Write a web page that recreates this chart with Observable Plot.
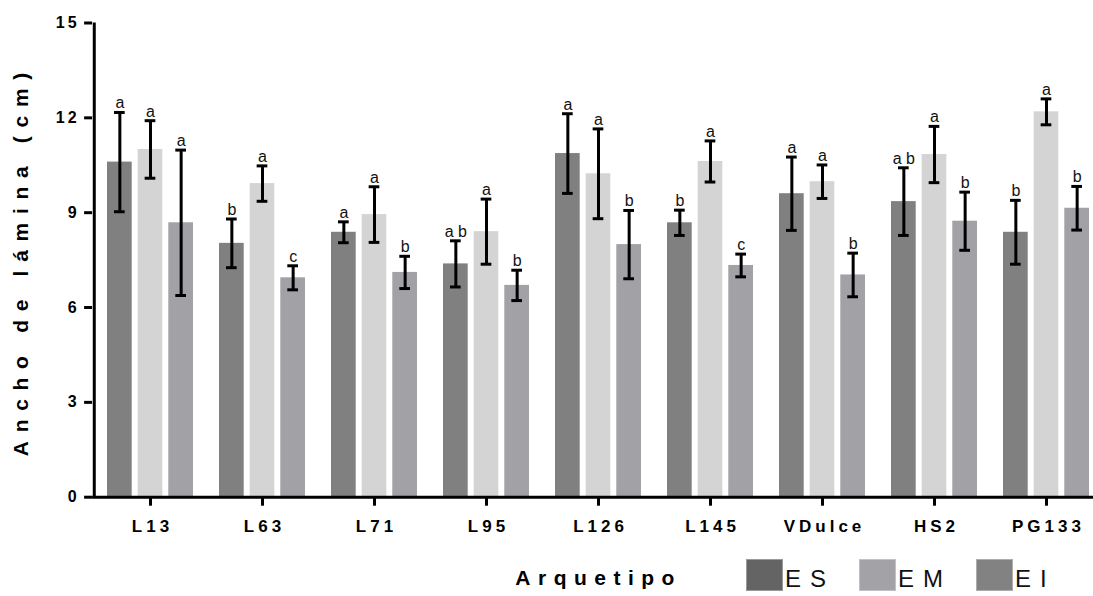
<!DOCTYPE html>
<html>
<head>
<meta charset="utf-8">
<script src="https://cdn.jsdelivr.net/npm/d3@7"></script>
<script src="https://cdn.jsdelivr.net/npm/@observablehq/plot@0.6"></script>
<style>
  html, body { margin: 0; padding: 0; background: #fff; overflow: hidden; width: 1093px; height: 596px; }
  #wrap { position: relative; width: 1093px; height: 596px; overflow: hidden; font-family: "Liberation Sans", Arial, sans-serif; }
  #wrap svg { display: block; }
  #legend { position: absolute; left: 746px; top: 559px; display: flex; align-items: center; gap: 24px; }
  .item { display: flex; align-items: center; }
  .sw { width: 37px; height: 32px; box-sizing: border-box; border: 1px solid rgba(255,255,255,0.35); }
  .lab { font-size: 24px; letter-spacing: 9px; color: #111; margin-left: 2px; position: relative; top: 4px; }
</style>
</head>
<body>
<div id="wrap"><div id="legend"></div></div>
<script>
// ---- data ----
const categories = ["L13", "L63", "L71", "L95", "L126", "L145", "VDulce", "HS2", "PG133"];
const series = ["ES", "EM", "EI"];

const meanES = [10.60, 8.03, 8.38, 7.38, 10.87, 8.68, 9.60, 9.35, 8.38];
const meanEM = [11.00, 9.92, 8.94, 8.40, 10.23, 10.62, 9.98, 10.84, 12.19];
const meanEI = [8.68, 6.94, 7.11, 6.70, 7.99, 7.33, 7.03, 8.73, 9.14];

const errES = [1.57, 0.77, 0.33, 0.73, 1.26, 0.40, 1.16, 1.07, 1.01];
const errEM = [0.91, 0.56, 0.88, 1.03, 1.42, 0.65, 0.53, 0.89, 0.41];
const errEI = [2.30, 0.38, 0.51, 0.48, 1.08, 0.36, 0.69, 0.92, 0.69];

const letterES = ["a", "b", "a", "a b", "a", "b", "a", "a b", "b"];
const letterEM = ["a", "a", "a", "a", "a", "a", "a", "a", "a"];
const letterEI = ["a", "c", "b", "b", "b", "c", "b", "b", "b"];

const yTicks = [0, 3, 6, 9, 12, 15];
const barColors = ["#808080", "#d4d4d4", "#a1a1a6"];
const legendColors = ["#646464", "#a2a2a7", "#828282"];
const yLabel = "Ancho de lámina (cm)";
const xLabel = "Arquetipo";

// ---- layout ----
const W = 1093, H = 596;
const mL = 92.1, mT = 22.5, mB = 99.3;
const step = 112.45;
const mR = W - mL - step * categories.length;   // negative: the chart is cropped on the right
const pad = 0.2325;
const groupBw = step * (1 - pad);
const subPad = 0.184;
const subStep = groupBw / (series.length - subPad);
const subBw = subStep * (1 - subPad);

const means = [meanES, meanEM, meanEI];
const errs = [errES, errEM, errEI];
const letters = [letterES, letterEM, letterEI];

const marks = [];
series.forEach((s, si) => {
  const rows = categories.map((c, ci) => ({cat: c, s, mean: means[si][ci], err: errs[si][ci], letter: letters[si][ci]}));
  const off = -groupBw / 2 + si * subStep + subBw / 2;
  const capInset = groupBw / 2 - 5.5;
  marks.push(Plot.barY(rows, {
    x: "cat", y: "mean", fill: barColors[si],
    insetLeft: si * subStep, insetRight: groupBw - si * subStep - subBw
  }));
  marks.push(Plot.ruleX(rows, {x: "cat", y1: d => d.mean - d.err, y2: d => d.mean + d.err, dx: off, stroke: "#000", strokeWidth: 3}));
  marks.push(Plot.tickY(rows, {x: "cat", y: d => d.mean + d.err, dx: off, insetLeft: capInset, insetRight: capInset, stroke: "#000", strokeWidth: 3}));
  marks.push(Plot.tickY(rows, {x: "cat", y: d => d.mean - d.err, dx: off, insetLeft: capInset, insetRight: capInset, stroke: "#000", strokeWidth: 3}));
  marks.push(Plot.text(rows, {x: "cat", y: d => d.mean + d.err, text: "letter", dx: off, dy: -4, lineAnchor: "bottom", fontSize: 16, fill: "#111"}));
});

const plot = Plot.plot({
  width: W, height: H,
  marginLeft: mL, marginRight: mR, marginTop: mT, marginBottom: mB,
  style: {fontFamily: '"Liberation Sans", Arial, sans-serif', background: "#fff", color: "#000", overflow: "hidden"},
  x: {type: "band", domain: categories, paddingInner: pad, paddingOuter: pad / 2},
  y: {domain: [0, 15]},
  marks: [
    ...marks,
    Plot.ruleY([0], {stroke: "#000", strokeWidth: 3}),
    Plot.ruleX([categories[0]], {x: d => d, y1: 0, y2: 15, dx: -step / 2, stroke: "#000", strokeWidth: 3}),
    Plot.axisY(yTicks, {tickSize: 8, tickPadding: 5, strokeWidth: 3, fontSize: 16, fontWeight: "bold",
      label: yLabel, labelAnchor: "center", labelOffset: 80}),
    Plot.axisX({tickSize: 9, tickPadding: 14, strokeWidth: 3, fontSize: 17, fontWeight: "bold",
      label: xLabel, labelAnchor: "center", labelOffset: 88})
  ]
});

const svg = d3.select(plot.tagName.toLowerCase() === "svg" ? plot : plot.querySelector("svg"));
svg.style("overflow", "hidden");
svg.selectAll('[aria-label="x-axis tick label"] text').attr("letter-spacing", "4px").attr("dx", "2px");
svg.selectAll('[aria-label="y-axis tick label"] text').attr("letter-spacing", "3px");
svg.selectAll('[aria-label="y-axis label"] text').text(yLabel).attr("letter-spacing", "8.7px").attr("font-size", 21).attr("font-weight", "bold");
svg.selectAll('[aria-label="x-axis label"] text').text(xLabel).attr("letter-spacing", "7.5px").attr("font-size", 21).attr("font-weight", "bold");

document.getElementById("wrap").prepend(plot);

const legend = document.getElementById("legend");
series.forEach((s, i) => {
  const item = document.createElement("div");
  item.className = "item";
  const sw = document.createElement("div");
  sw.className = "sw";
  sw.style.background = legendColors[i];
  const lab = document.createElement("span");
  lab.className = "lab";
  lab.textContent = s;
  item.append(sw, lab);
  legend.append(item);
});
</script>
</body>
</html>
